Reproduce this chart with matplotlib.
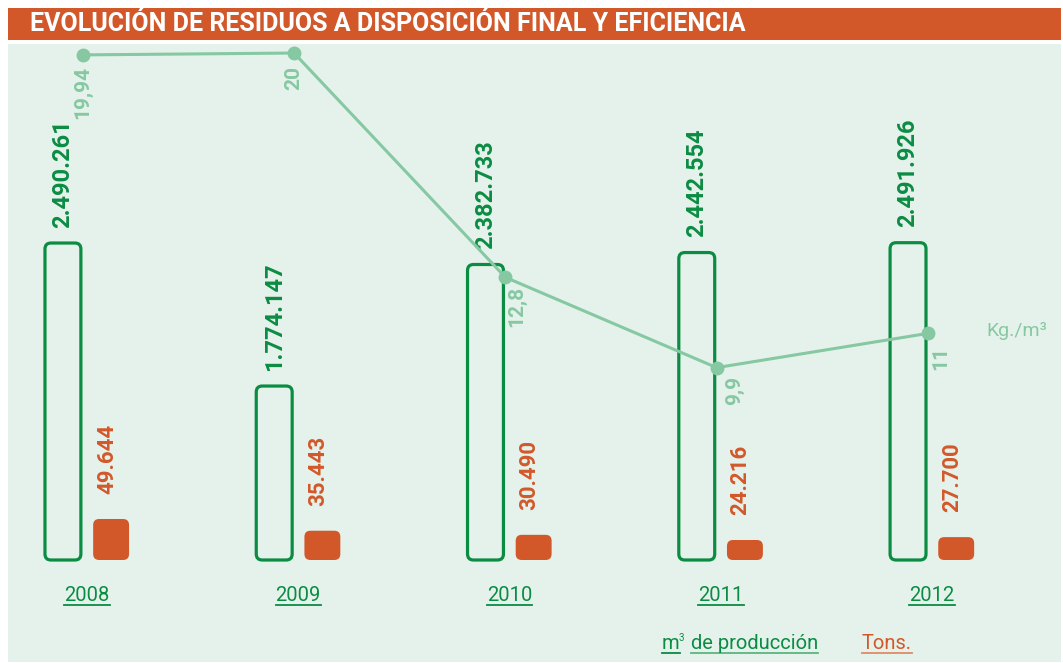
import matplotlib
matplotlib.use("Agg")
import matplotlib.pyplot as plt
from matplotlib.patches import Rectangle, FancyBboxPatch
from matplotlib.lines import Line2D
from matplotlib.transforms import IdentityTransform

# datos por año
years = ["2008", "2009", "2010", "2011", "2012"]
m3_produccion = [2490261, 1774147, 2382733, 2442554, 2491926]
toneladas = [49644, 35443, 30490, 24216, 27700]
kg_por_m3 = [19.94, 20, 12.8, 9.9, 11]

m3_labels = ["2.490.261", "1.774.147", "2.382.733", "2.442.554", "2.491.926"]
ton_labels = ["49.644", "35.443", "30.490", "24.216", "27.700"]
kg_labels = ["19,94", "20", "12,8", "9,9", "11"]

# colores
ORANGE = "#D2582A"
GREEN = "#0B8C43"
LIGHT = "#86C8A2"
PANEL = "#E5F2EB"

W, H = 1063, 663
plt.rcParams["font.family"] = ["Roboto", "DejaVu Sans"]

fig = plt.figure(figsize=(W / 100, H / 100), dpi=100)
fig.patch.set_facecolor("white")


def fx(x):
    return x / W


def fy(y):
    return 1 - y / H


# barra de título y panel de fondo (por debajo de los ejes)
fig.add_artist(Rectangle((fx(8), fy(40)), fx(1053), 32 / H, transform=fig.transFigure,
                         facecolor=ORANGE, edgecolor="none", zorder=-2))
fig.add_artist(Rectangle((fx(8), fy(662)), fx(1053), 618 / H, transform=fig.transFigure,
                         facecolor=PANEL, edgecolor="none", zorder=-2))
fig.text(fx(30), fy(24), "EVOLUCIÓN DE RESIDUOS A DISPOSICIÓN FINAL Y EFICIENCIA",
         color="white", fontsize=18, fontweight="bold", va="center", ha="left")

# ejes superpuestos sobre el panel
rect = [fx(8), fy(662), fx(1053), 618 / H]
ax_m3 = fig.add_axes(rect, zorder=2)
ax_t = fig.add_axes(rect, zorder=2)
ax_kg = fig.add_axes(rect, zorder=3)
for a in (ax_m3, ax_t, ax_kg):
    a.set_xlim(-0.374, 4.610)
    a.set_axis_off()
    a.patch.set_visible(False)

# escalas verticales (base de barras comun)
m3_base = 903000
ax_m3.set_ylim(m3_base - 102 / 0.0001997, m3_base + 516 / 0.0001997)
ax_t.set_ylim(-102 / 0.000826, 516 / 0.000826)
ax_kg.set_ylim(0.45, 20.29)

x = list(range(len(years)))
bw = 0.17
off = 0.114

bars_m3 = ax_m3.bar([i - off for i in x], [v - m3_base for v in m3_produccion],
                    bottom=m3_base, width=bw, visible=False)
bars_t = ax_t.bar([i + off for i in x], toneladas, width=bw, visible=False)


def rounded(ax, bars, **kw):
    for b in bars:
        (x0, y0), (x1, y1) = ax.transData.transform([(b.get_x(), b.get_y()),
                                                    (b.get_x() + b.get_width(),
                                                     b.get_y() + b.get_height())])
        p = FancyBboxPatch((x0, y0), x1 - x0, y1 - y0,
                           boxstyle="round,pad=0,rounding_size=6",
                           transform=IdentityTransform(), zorder=1, **kw)
        fig.add_artist(p)


rounded(ax_m3, bars_m3, facecolor="none", edgecolor=GREEN, linewidth=2.3)
rounded(ax_t, bars_t, facecolor=ORANGE, edgecolor="none")

# valores de las barras
for b, lab in zip(bars_m3, m3_labels):
    ax_m3.annotate(lab, (b.get_x() + b.get_width() / 2, b.get_y() + b.get_height()),
                   xytext=(0, 11), textcoords="offset points", rotation=90,
                   ha="center", va="bottom", color=GREEN, fontsize=17, fontweight="bold")
for b, lab in zip(bars_t, ton_labels):
    ax_t.annotate(lab, (b.get_x() + b.get_width() / 2 - 0.02, b.get_y() + b.get_height()),
                  xytext=(0, 18), textcoords="offset points", rotation=90,
                  ha="center", va="bottom", color=ORANGE, fontsize=16, fontweight="bold")

# línea de eficiencia kg/m3
xk = [i - 0.02 for i in x]
ax_kg.plot(xk, kg_por_m3, color=LIGHT, linewidth=2.2, marker="o", markersize=9,
           zorder=5)
kg_off = [(0, -8), (0, -9), (8, -6), (13, -6), (9, -9)]
for xi, v, lab, (dx, dy) in zip(xk, kg_por_m3, kg_labels, kg_off):
    ax_kg.annotate(lab, (xi, v), xytext=(dx, dy), textcoords="offset points",
                   rotation=90, ha="center", va="top", color=LIGHT, fontsize=15,
                   fontweight="bold")

fig.text(fx(986), fy(331), "Kg./m³", color=LIGHT, fontsize=14, ha="left",
         va="center")

# etiquetas de años y leyenda, subrayadas
underlined = []
for i, yr in enumerate(years):
    t = ax_m3.text(i, 1 - (601 - 44) / 618, yr, transform=ax_m3.get_xaxis_transform(),
                   color=GREEN, fontsize=14.5, ha="center", va="baseline")
    underlined.append((t, GREEN))

leg_m = fig.text(fx(662), fy(649), "m", color=GREEN, fontsize=14.5, va="baseline")
fig.text(fx(679), fy(641), "3", color=GREEN, fontsize=7, va="baseline")
leg_d = fig.text(fx(691), fy(649), "de producción", color=GREEN, fontsize=14.5,
                 va="baseline")
leg_t = fig.text(fx(862), fy(649), "Tons.", color=ORANGE, fontsize=14.5, va="baseline")
underlined += [(leg_m, GREEN), (leg_d, "#5DB57F"), (leg_t, "#E08A68")]

fig.canvas.draw()
r = fig.canvas.get_renderer()
for t, c in underlined:
    bb = t.get_window_extent(r)
    base = t.get_transform().transform(t.get_position())[1]
    fig.add_artist(Line2D([bb.x0, bb.x1], [base - 4, base - 4], color=c,
                          linewidth=1.3, transform=IdentityTransform()))

fig.savefig("out.png", dpi=100)
